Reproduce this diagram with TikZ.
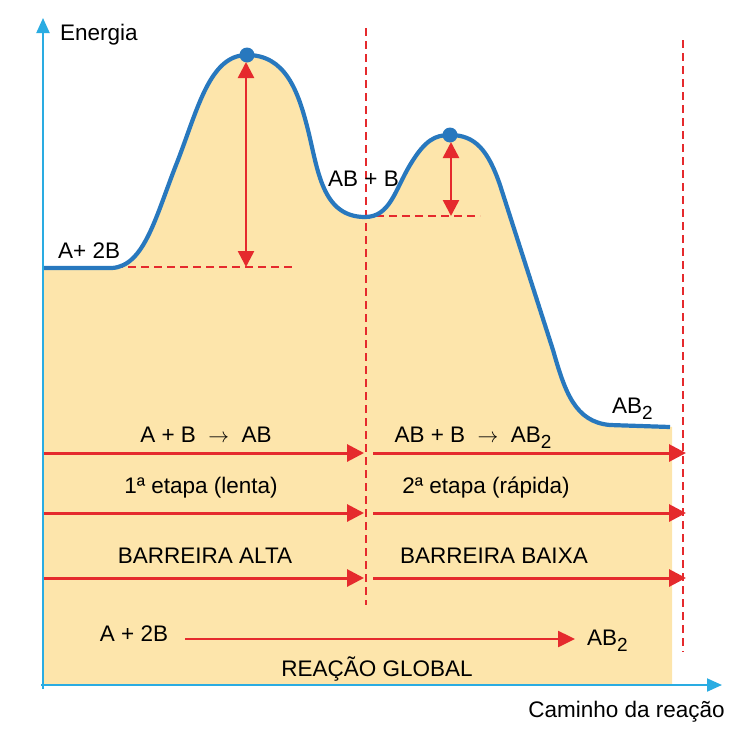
\documentclass[tikz,border=0pt]{standalone}
\usepackage{fontspec}
\setmainfont{Liberation Sans}
\usetikzlibrary{arrows.meta}
\definecolor{fillY}{HTML}{FDE5AB}
\definecolor{curveB}{HTML}{2878BE}
\definecolor{axisC}{HTML}{2AACE2}
\definecolor{redC}{HTML}{E52A2D}
\newcommand{\subtwo}{\raisebox{-6pt}{\fontsize{19}{19}\selectfont 2}}
\begin{document}
\begin{tikzpicture}[x=1pt,y=-1pt,
  lbl/.style={font=\fontsize{22.5}{26}\selectfont, inner sep=0pt, anchor=base},
  redarrow/.style={draw=redC, line width=3pt, -{Triangle[length=17pt,width=17pt]}},
  dbl/.style={draw=redC, line width=2.5pt, {Triangle[length=16pt,width=16pt]}-{Triangle[length=16pt,width=16pt]}},
  reddash/.style={draw=redC, line width=1.3pt, dash pattern=on 8pt off 5pt},
  axisline/.style={draw=axisC, line width=2pt, -{Triangle[length=15pt,width=13pt]}},
  curve/.style={draw=curveB, line width=4.2pt},
]
\useasboundingbox (0,0) rectangle (754,739);
% fill
\fill[fillY] (43,268) -- (112,268)
  .. controls (145,266) and (156,215) .. (178,160)
  .. controls (198,108) and (210,55) .. (247,55)
  .. controls (285,55) and (298,90) .. (308,130)
  .. controls (318,170) and (322,217) .. (365,217)
  .. controls (390,217) and (395,190) .. (410,165)
  .. controls (425,140) and (435,135) .. (450,135)
  .. controls (475,135) and (488,150) .. (500,185)
  -- (553,350)
  .. controls (565,392) and (575,422) .. (610,425)
  -- (672,427) -- (672,685) -- (43,685) -- cycle;
% named points
\coordinate (b1l) at (115,267); \coordinate (b1r) at (293,267);
\coordinate (b2l) at (363,216); \coordinate (b2r) at (480,216);
\coordinate (v1t) at (366,28); \coordinate (v1b) at (366,605);
\coordinate (v2t) at (683,40); \coordinate (v2b) at (683,652);
\coordinate (d1t) at (246,62); \coordinate (d1b) at (246,267);
\coordinate (d2t) at (451,142); \coordinate (d2b) at (451,216);
\foreach \r/\yy in {1/453,2/513,3/578}{
  \coordinate (l\r s) at (43,\yy); \coordinate (l\r e) at (364,\yy);
  \coordinate (r\r s) at (373,\yy); \coordinate (r\r e) at (686,\yy);
}
\coordinate (gs) at (185,639); \coordinate (ge) at (575,639);
\coordinate (yt) at (43,18); \coordinate (xt) at (722,685);
\coordinate (yb) at (43,689); \coordinate (xb) at (41,685);
% dashed
\draw[reddash] (b1l) -- (b1r);
\draw[reddash] (b2l) -- (b2r);
\draw[reddash] (v1t) -- (v1b);
\draw[reddash] (v2t) -- (v2b);
% curve
\draw[curve, line join=round] (43,268) -- (112,268)
  .. controls (145,266) and (156,215) .. (178,160)
  .. controls (198,108) and (210,55) .. (247,55)
  .. controls (285,55) and (298,90) .. (308,130)
  .. controls (318,170) and (322,217) .. (365,217)
  .. controls (390,217) and (395,190) .. (410,165)
  .. controls (425,140) and (435,135) .. (450,135)
  .. controls (475,135) and (488,150) .. (500,185)
  -- (553,350)
  .. controls (565,392) and (575,422) .. (610,425)
  -- (670,427);
\fill[curveB] (247,55) circle (7.5);
\fill[curveB] (450,135) circle (7.5);
% double arrows
\draw[dbl] (d1b) -- (d1t);
\draw[dbl] (d2b) -- (d2t);
% row arrows
\foreach \r in {1,2,3}{
  \draw[redarrow] (l\r s) -- (l\r e);
  \draw[redarrow] (r\r s) -- (r\r e);
}
\draw[draw=redC, line width=2.5pt, -{Triangle[length=17pt,width=16pt]}] (gs) -- (ge);
% axes
\draw[axisline] (yb) -- (yt);
\draw[axisline] (xb) -- (xt);
% labels
\node[lbl, anchor=base west] (en) at (60,40) {Energia};
\node[lbl, anchor=base east] (cam) at (725,717) {Caminho da reação};
\node[lbl, anchor=base west] (a2b) at (58,258) {A+ 2B};
\node[lbl, anchor=base west] (abb) at (328,186) {AB + B};
\node[lbl, anchor=base west] (ab2) at (612,413) {AB\subtwo};
\node[lbl] (t1) at (206,442) {A + B\ \ $\rightarrow$\ \ AB};
\node[lbl] (t2) at (473,442) {AB + B\ \ $\rightarrow$\ \ AB\subtwo};
\node[lbl] (t3) at (201,493) {1ª etapa (lenta)};
\node[lbl] (t4) at (486,493) {2ª etapa (rápida)};
\node[lbl] (t5) at (205,563) {BARREIRA ALTA};
\node[lbl] (t6) at (494,563) {BARREIRA BAIXA};
\node[lbl] (t7) at (134,641) {A + 2B};
\node[lbl, anchor=base west] (t8) at (587,645) {AB\subtwo};
\node[lbl] (t9) at (377,676) {REAÇÃO GLOBAL};
\end{tikzpicture}
\end{document}
